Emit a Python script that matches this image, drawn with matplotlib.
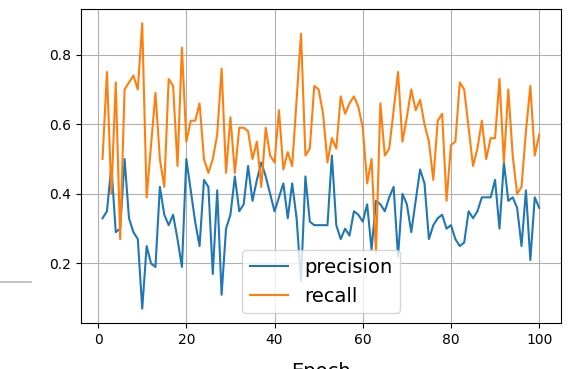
import matplotlib
matplotlib.use('Agg')
import matplotlib.pyplot as plt
import numpy as np
from matplotlib.lines import Line2D

epochs = list(range(1, 101))

precision = [0.33, 0.35, 0.48, 0.29, 0.30, 0.50, 0.33, 0.29, 0.27, 0.07,
             0.25, 0.20, 0.19, 0.42, 0.34, 0.31, 0.34, 0.27, 0.19, 0.50,
             0.41, 0.32, 0.25, 0.44, 0.42, 0.17, 0.41, 0.11, 0.30, 0.34,
             0.45, 0.35, 0.37, 0.48, 0.38, 0.44, 0.49, 0.45, 0.40, 0.35,
             0.39, 0.43, 0.33, 0.43, 0.33, 0.15, 0.45, 0.32, 0.31, 0.31,
             0.31, 0.31, 0.51, 0.31, 0.27, 0.30, 0.28, 0.35, 0.34, 0.32,
             0.37, 0.24, 0.38, 0.37, 0.35, 0.39, 0.42, 0.22, 0.40, 0.37,
             0.29, 0.38, 0.47, 0.43, 0.27, 0.31, 0.33, 0.34, 0.30, 0.31,
             0.27, 0.25, 0.26, 0.35, 0.33, 0.35, 0.39, 0.39, 0.39, 0.44,
             0.30, 0.49, 0.38, 0.39, 0.36, 0.25, 0.41, 0.21, 0.39, 0.36]

recall = [0.50, 0.75, 0.40, 0.72, 0.27, 0.70, 0.72, 0.74, 0.70, 0.89,
          0.39, 0.54, 0.69, 0.50, 0.42, 0.73, 0.71, 0.48, 0.82, 0.55,
          0.61, 0.61, 0.66, 0.50, 0.46, 0.50, 0.57, 0.76, 0.46, 0.62,
          0.46, 0.59, 0.59, 0.58, 0.50, 0.55, 0.42, 0.59, 0.51, 0.49,
          0.64, 0.47, 0.52, 0.48, 0.67, 0.86, 0.51, 0.53, 0.71, 0.70,
          0.63, 0.49, 0.56, 0.53, 0.68, 0.63, 0.66, 0.68, 0.65, 0.59,
          0.43, 0.50, 0.23, 0.66, 0.51, 0.53, 0.64, 0.75, 0.55, 0.62,
          0.70, 0.64, 0.67, 0.60, 0.55, 0.44, 0.61, 0.63, 0.38, 0.54,
          0.55, 0.72, 0.70, 0.59, 0.48, 0.53, 0.61, 0.50, 0.56, 0.56,
          0.73, 0.49, 0.70, 0.51, 0.40, 0.42, 0.58, 0.71, 0.51, 0.57]

W, H = 568, 369
fig = plt.figure(figsize=(W / 100, H / 100), dpi=100)
ax = fig.add_axes([80.7 / W, (H - 323) / H, (561 - 80.7) / W, (323 - 9) / H])

ax.plot(epochs, precision, label='precision')
ax.plot(epochs, recall, label='recall')
ax.set_yticks([0.2, 0.4, 0.6, 0.8])
ax.set_xticks([0, 20, 40, 60, 80, 100])
ax.grid(True)
ax.set_xlabel('Epoch', fontsize=14, labelpad=11)
ax.legend(loc='lower center', fontsize=14)

# stray grey rule on the left edge of the screenshot
fig.add_artist(Line2D([0, 30.5 / W], [1 - 282 / H, 1 - 282 / H],
                      transform=fig.transFigure, color='#b8b8b8', linewidth=1.2))

fig.savefig('out.png', dpi=100)
